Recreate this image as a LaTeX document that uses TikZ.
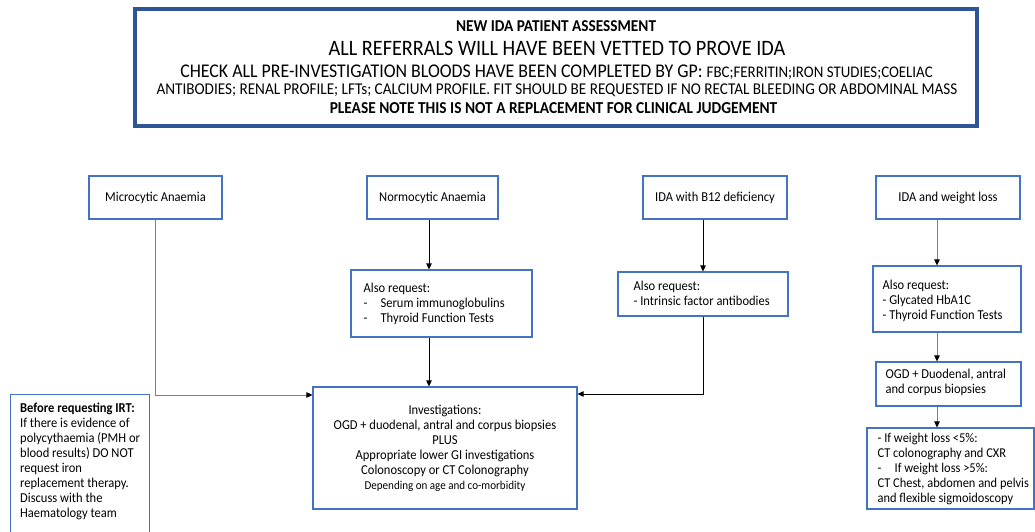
\documentclass[tikz,border=0pt]{standalone}
\usepackage{fontspec}
\setmainfont[FakeStretch=0.92]{Carlito}
\usetikzlibrary{arrows.meta,calc}
\definecolor{hdrblue}{HTML}{2F5597}
\definecolor{boxblue}{HTML}{4472C4}
\definecolor{lgrey}{HTML}{7F7F7F}
\tikzset{
  x=1pt,y=-1pt,
  bodyfont/.style={font=\fontsize{13.6}{15}\selectfont},
  box/.style={draw=boxblue, line width=1.1pt, inner sep=0pt, bodyfont},
  cbox/.style={box, align=center},
  lbl/.style={anchor=west, align=left, inner sep=0pt, bodyfont},
  hline/.style={inner sep=0pt, anchor=center},
  conn/.style={line width=0.8pt, draw=black, -{Triangle[width=5.5pt,length=6pt]}},
  gconn/.style={line width=0.8pt, draw=lgrey, -{Triangle[width=5.5pt,length=6pt,black]}},
}
\newcommand{\dsh}[1][17pt]{\makebox[#1][l]{-}}
\begin{document}
\begin{tikzpicture}
\useasboundingbox (0,0) rectangle (1035,532);
\clip (0,0) rectangle (1035,532);

% header
\node[draw=hdrblue, line width=4.5pt, minimum width=842pt, minimum height=117pt, inner sep=0pt] (header) at (556,67.5) {};
\node[hline, font=\fontsize{16.6}{18}\selectfont\bfseries] (h1) at (556,26) {NEW IDA PATIENT ASSESSMENT};
\node[hline, font=\fontsize{22}{24}\selectfont] (h2) at (557,48) {ALL REFERRALS WILL HAVE BEEN VETTED TO PROVE IDA};
\node[hline, font=\fontsize{19.4}{21}\selectfont] (h3) at (556.5,72) {CHECK ALL PRE-INVESTIGATION BLOODS HAVE BEEN COMPLETED BY GP: {\fontsize{16.2}{18}\selectfont FBC;FERRITIN;IRON STUDIES;COELIAC}};
\node[hline, font=\fontsize{16.5}{18}\selectfont] (h4) at (557,90) {ANTIBODIES; RENAL PROFILE; LFTs; CALCIUM PROFILE. FIT SHOULD BE REQUESTED IF NO RECTAL BLEEDING OR ABDOMINAL MASS};
\node[hline, font=\fontsize{16.7}{18}\selectfont\bfseries] (h5) at (553.5,108) {PLEASE NOTE THIS IS NOT A REPLACEMENT FOR CLINICAL JUDGEMENT};

% top row
\node[cbox, minimum width=133pt, minimum height=43pt] (micro) at (155.5,197.5) {Microcytic Anaemia};
\node[cbox, minimum width=131pt, minimum height=43pt] (normo) at (432.5,197.5) {Normocytic Anaemia};
\node[cbox, minimum width=144pt, minimum height=43pt] (b12) at (715,197.5) {IDA with B12 deficiency};
\node[cbox, minimum width=144pt, minimum height=43pt] (wl) at (948,197.5) {IDA and weight loss};

% second row
\node[box, minimum width=181pt, minimum height=67pt,
  label={[lbl, xshift=13pt, yshift=-0.5pt]west:{Also request:\\ \dsh Serum immunoglobulins\\ \dsh Thyroid Function Tests}}] (normoreq) at (441.5,303.5) {};
\node[box, minimum width=170pt, minimum height=44pt,
  label={[lbl, xshift=16pt, yshift=1pt]west:{Also request:\\ - Intrinsic factor antibodies}}] (b12req) at (703,294) {};
\node[box, minimum width=148pt, minimum height=66pt,
  label={[lbl, xshift=10pt, yshift=-2pt]west:{Also request:\\ - Glycated HbA1C\\ - Thyroid Function Tests}}] (wlreq) at (947,299) {};
\node[box, minimum width=145pt, minimum height=44pt,
  label={[lbl, xshift=10pt, yshift=2pt]west:{OGD + Duodenal, antral\\ and corpus biopsies}}] (wlogd) at (948.5,384) {};
\node[box, minimum width=167pt, minimum height=81pt,
  label={[lbl, xshift=11pt, yshift=0pt, font=\fontsize{13.5}{15}\selectfont]west:{- If weight loss <5\%:\\ CT colonography and CXR\\ \dsh If weight loss >5\%:\\ CT Chest, abdomen and pelvis\\ and flexible sigmoidoscopy}}] (wlres) at (950.5,468.5) {};

% investigations
\node[cbox, minimum width=264pt, minimum height=122pt] (invest) at (445,448)
  {Investigations:\\ OGD + duodenal, antral and corpus biopsies\\ PLUS\\ Appropriate lower GI investigations\\ Colonoscopy or CT Colonography\\ {\fontsize{12}{14}\selectfont Depending on age and co-morbidity}};

% before requesting IRT
\node[box, minimum width=139pt, minimum height=150pt, anchor=north west,
  label={[lbl, anchor=north west, xshift=10pt, yshift=-8.5pt, font=\fontsize{13.6}{15}\selectfont]north west:{\textbf{Before requesting IRT:}\\ If there is evidence of\\ polycythaemia (PMH or\\ blood results) DO NOT\\ request iron\\ replacement therapy.\\ Discuss with the\\ Haematology team}}] (before) at (10,394) {};

% connector anchors
\coordinate (nx) at (429,0);
\coordinate (bx) at (703,0);
\coordinate (wx) at (937,0);
\coordinate (lin) at (313,395);
\coordinate (rin) at (577,394);

% connectors
\draw[gconn] (micro.south) |- (invest.west |- lin);
\draw[conn] (normo.south -| nx) -- (normoreq.north -| nx);
\draw[conn] (normoreq.south -| nx) -- (invest.north -| nx);
\draw[conn] (b12.south -| bx) -- (b12req.north -| bx);
\draw[conn] (b12req.south -| bx) |- (invest.east |- rin);
\draw[gconn] (wl.south -| wx) -- (wlreq.north -| wx);
\draw[gconn] (wlreq.south -| wx) -- (wlogd.north -| wx);
\draw[gconn] (wlogd.south -| wx) -- (wlres.north -| wx);
\end{tikzpicture}
\end{document}
